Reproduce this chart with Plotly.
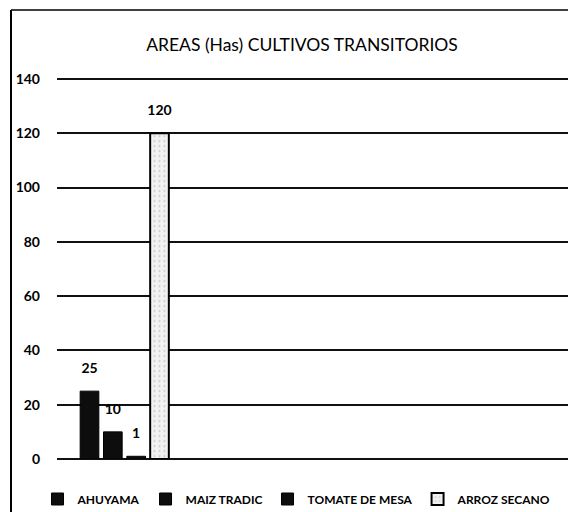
import plotly.graph_objects as go

# ---- data ----
categories = [""]
series_names = ["AHUYAMA", "MAIZ TRADIC", "TOMATE DE MESA", "ARROZ SECANO"]
ahuyama = [25]
maiz_tradic = [10]
tomate_de_mesa = [1]
arroz_secano = [120]
y_ticks = [0, 20, 40, 60, 80, 100, 120, 140]

W, H = 576, 512
OFF = 8  # page body margin offset
px_left, px_right = 57 - OFF, 576
px_top, px_bottom = 79 - OFF, 459 - OFF
y_max = 142
px_top_ext = px_top - (y_max - 140) * (px_bottom - px_top) / 140

fill_colors = ["#0d0d0d", "#0d0d0d", "#0d0d0d", "#ececec"]
values = [ahuyama, maiz_tradic, tomate_de_mesa, arroz_secano]

fig = go.Figure()
for name, vals, col in zip(series_names, values, fill_colors):
    marker = dict(color=col, line=dict(color="#000000", width=2 if col != "#0d0d0d" else 1))
    if name == "ARROZ SECANO":
        marker["pattern"] = dict(shape=".", fgcolor="#9a9a9a", bgcolor="#f2f2f2", size=5, solidity=0.15)
    fig.add_trace(go.Bar(
        name=name, x=categories, y=vals, marker=marker,
        texttemplate="<span style='font-size:14px'>%{y}</span><br>\u00a0",
        textposition="outside", constraintext="none",
        outsidetextfont=dict(family="Lato", size=10, color="#000000", weight="bold"),
        cliponaxis=False,
    ))

cat_px = 140.0
plot_w = px_right - px_left
x_start = -(124.5 - 57) / cat_px
fig.update_layout(
    width=W, height=H,
    margin=dict(l=0, r=0, t=0, b=0, autoexpand=False),
    paper_bgcolor="white", plot_bgcolor="white",
    barmode="group", bargap=1/3, bargroupgap=0.2,
    font=dict(family="Lato", color="#000000"),
    title=dict(text="AREAS (Has) CULTIVOS TRANSITORIOS",
               x=(302 - OFF) / W, xref="paper", xanchor="center",
               y=1 - (45 - OFF) / H, yref="container", yanchor="middle",
               font=dict(family="Lato", size=17.5, color="#000000")),
    xaxis=dict(domain=[px_left / W, px_right / W], range=[x_start, x_start + plot_w / cat_px],
               showticklabels=False, showgrid=False, zeroline=False, showline=False,
               ticks="", automargin=False, fixedrange=True),
    yaxis=dict(domain=[(H - px_bottom) / H, (H - px_top_ext) / H], range=[0, y_max],
               tickvals=y_ticks, ticktext=[str(v) for v in y_ticks],
               tickfont=dict(family="Lato", size=14, color="#000000", weight="bold"),
               showgrid=True, gridcolor="#111111", gridwidth=1.6,
               zeroline=True, zerolinecolor="#111111", zerolinewidth=1.6,
               showline=False, ticks="", ticklabelstandoff=16, automargin=False),
    legend=dict(orientation="h", x=(297 - OFF) / W, xanchor="center", y=1 - (499 - OFF) / H, yanchor="middle",
                font=dict(family="Lato", size=12, color="#000000", weight="bold"),
                itemwidth=30, traceorder="normal", bgcolor="rgba(0,0,0,0)"),
    shapes=[
        dict(type="line", xref="paper", yref="paper", x0=(11 - OFF) / W, x1=(11 - OFF) / W,
             y0=1 - (10 - OFF) / H, y1=0, line=dict(color="#000000", width=2)),
        dict(type="line", xref="paper", yref="paper", x0=(11 - OFF) / W, x1=1,
             y0=1 - (10 - OFF) / H, y1=1 - (10 - OFF) / H, line=dict(color="#000000", width=1.5)),
    ],
)

fig.write_html("out.html")
